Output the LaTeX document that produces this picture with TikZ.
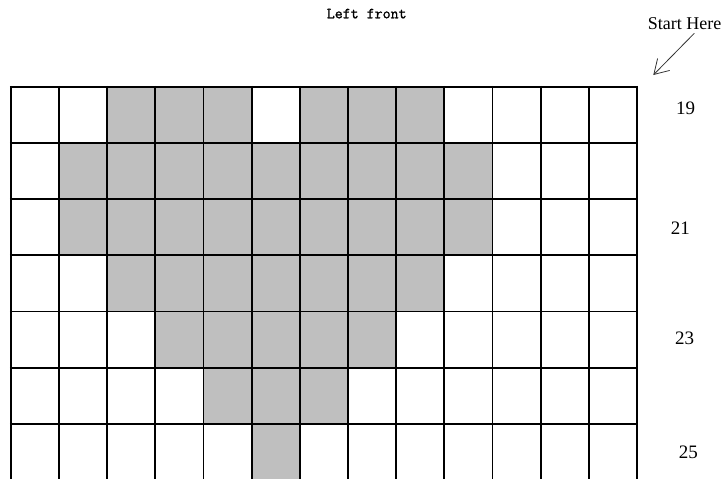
\documentclass[tikz,border=0pt]{standalone}
\usepackage{fontspec}
\newfontfamily\chartfont{Liberation Serif}
\newfontfamily\titlefont[FakeBold=1.2]{Latin Modern Mono}
\usetikzlibrary{arrows.meta}
\tikzset{cell/.style={fill=black!25},gridline/.style={line width=1.8pt},
  rownum/.style={inner sep=0pt,font=\chartfont\fontsize{19}{19}\selectfont}}

\begin{document}
\begin{tikzpicture}[x=1pt,y=-1pt,line join=round]
\useasboundingbox (0,0) rectangle (724,479);
% --- shaded stitches: row / first column / last column
\foreach \r/\a/\b in {1/3/5,1/7/9,2/2/10,3/2/10,4/3/9,5/4/8,6/5/7,7/6/6}
  {\fill[cell] ({10.7+(\a-1)*48.18},{86.7+(\r-1)*56.2}) rectangle ({10.7+\b*48.18},{86.7+\r*56.2});}
% --- grid
\foreach \i in {0,...,13} {\draw[gridline] ({10.7+\i*48.18},85.8) -- ({10.7+\i*48.18},482);}
\foreach \j in {0,...,6} {\draw[gridline] (9.8,{86.7+\j*56.2}) -- (637.9,{86.7+\j*56.2});}
% --- texts
\node[inner sep=0pt,anchor=base,font=\titlefont\fontsize{15.5}{15.5}\selectfont] (title) at (366.7,18.3) {Left front};
\node[inner sep=0pt,anchor=base,font=\chartfont\fontsize{18}{18}\selectfont] (start) at (684.7,29) {Start Here};
\node[rownum] (r19) at (685.5,108.3) {19};
\node[rownum] (r21) at (680.3,227.8) {21};
\node[rownum] (r23) at (684.5,338.7) {23};
\node[rownum] (r25) at (688.3,452.8) {25};
\coordinate (tip) at (653.3,75);
\draw[black!80,line width=0.8pt,-{Straight Barb[length=14pt,width=17pt]}] ([xshift=9.6pt,yshift=-4.3pt]start.base) -- (tip);
\end{tikzpicture}
\end{document}
